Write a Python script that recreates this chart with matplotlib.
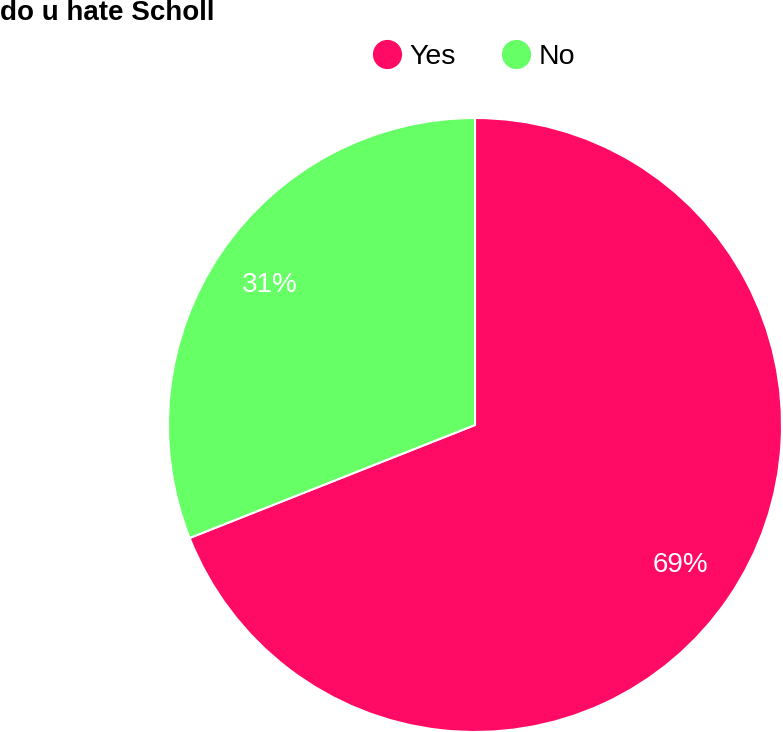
import matplotlib
matplotlib.use("Agg")
import matplotlib.pyplot as plt
from matplotlib.lines import Line2D

plt.rcParams['font.family'] = ['Liberation Sans', 'DejaVu Sans']

labels = ['Yes', 'No']
values = [69, 31]
colors = ['#FF0A64', '#66FF66']

W, H = 783, 732
fig = plt.figure(figsize=(W / 100, H / 100), dpi=100)

# pie axes: center (475, 425) px, radius 307 px
cx, cy, r = 475, 425, 307
ax = fig.add_axes([(cx - r) / W, (H - cy - r) / H, 2 * r / W, 2 * r / H])
wedges, texts, autotexts = ax.pie(values, colors=colors, startangle=90, counterclock=False,
                                  autopct='%d%%', pctdistance=0.81,
                                  wedgeprops=dict(edgecolor='white', linewidth=1.5),
                                  textprops=dict(color='white', fontsize=20))
ax.set_aspect('equal')
ax.set_xlim(-1.0, 1.0)
ax.set_ylim(-1.0, 1.0)

fig.text(0.0, 1 - 20 / H, 'do u hate Scholl', fontsize=20, fontweight='bold',
         ha='left', va='baseline')

handles = [Line2D([], [], marker='o', linestyle='', markersize=20,
                  markerfacecolor=c, markeredgecolor=c) for c in colors]
fig.legend(handles, labels, loc='center', bbox_to_anchor=(474 / W, 1 - 57 / H),
           ncol=2, frameon=False, fontsize=20.5, handletextpad=0.3,
           columnspacing=1.6, handlelength=1.0)

fig.savefig('out.png', dpi=100)
